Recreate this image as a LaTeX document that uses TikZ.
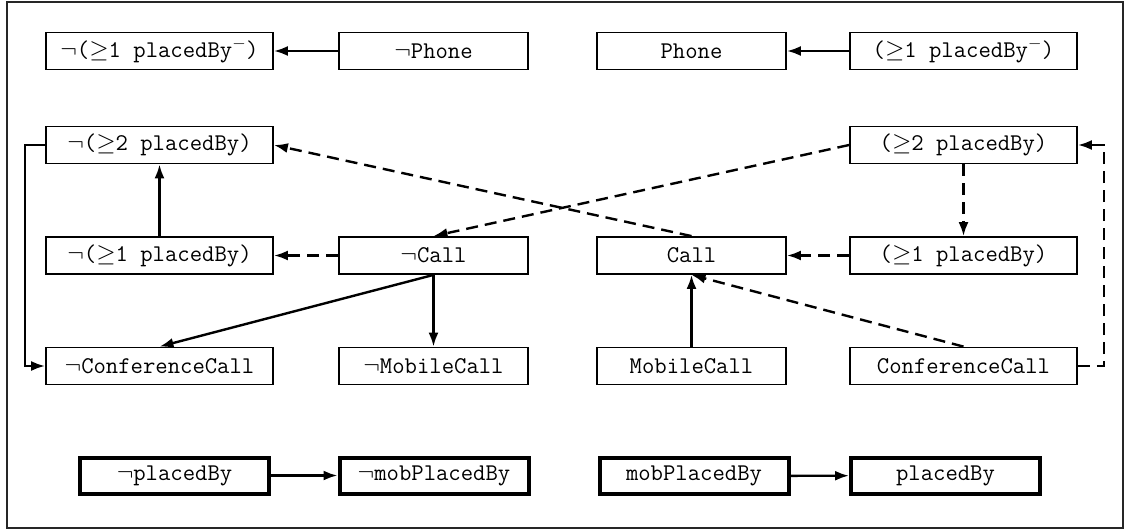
\documentclass[tikz,border=0pt]{standalone}
\usepackage{fontspec}
\usetikzlibrary{arrows.meta,calc}

\tikzset{
  concept/.style={draw, line width=1.8pt, inner sep=0pt, minimum height=37pt,
    font=\ttfamily\fontsize{24}{28}\selectfont},
  wide/.style={concept, minimum width=227pt},
  narrow/.style={concept, minimum width=189pt},
  role/.style={concept, line width=4pt, minimum width=189pt, minimum height=36pt},
  link/.style={line width=2.4pt, -{Latex[length=14pt,width=10pt]}},
  weak/.style={link, dash pattern=on 12pt off 7pt},
}

\begin{document}
\begin{tikzpicture}[x=1pt, y=-1pt]
  \useasboundingbox (0,0) rectangle (1126,532);
  \draw[line width=1.8pt, black!85] (7,2) rectangle (1123,528);

  % first row
  \node[wide]   (nexinv)  at (159.5,51) {$\neg$($\geq$1 placedBy$^{-}$)};
  \node[narrow] (nphone)  at (433.5,51) {$\neg$Phone};
  \node[narrow] (phone)   at (691.5,51) {Phone};
  \node[wide]   (exinv)   at (963.5,51) {($\geq$1 placedBy$^{-}$)};

  % second row
  \node[wide]   (nmin2)   at (159.5,145) {$\neg$($\geq$2 placedBy)};
  \node[wide]   (min2)    at (963.5,145) {($\geq$2 placedBy)};

  % third row
  \node[wide]   (nmin1)   at (159.5,255.5) {$\neg$($\geq$1 placedBy)};
  \node[narrow] (ncall)   at (433.5,255.5) {$\neg$Call};
  \node[narrow] (call)    at (691.5,255.5) {Call};
  \node[wide]   (min1)    at (963.5,255.5) {($\geq$1 placedBy)};

  % fourth row
  \node[wide]   (nconf)   at (159.5,366) {$\neg$ConferenceCall};
  \node[narrow] (nmob)    at (433.5,366) {$\neg$MobileCall};
  \node[narrow] (mob)     at (691.5,366) {MobileCall};
  \node[wide]   (conf)    at (963.5,366) {ConferenceCall};

  % roles
  \node[role] (nplaced)  at (174.5,475.5) {$\neg$placedBy};
  \node[role] (nmobpl)   at (434,475.5)   {$\neg$mobPlacedBy};
  \node[role] (mobpl)    at (694,476)     {mobPlacedBy};
  \node[role] (placed)   at (945.5,475.5) {placedBy};

  \coordinate (leftrail)  at (25,0);
  \coordinate (rightrail) at (1104,0);

  % solid subsumptions
  \draw[link] (nphone) -- (nexinv);
  \draw[link] (exinv) -- (phone);
  \draw[link] (nmin1) -- (nmin2);
  \draw[link] (nmin2.west) -- (nmin2.west -| leftrail) -- (nconf.west -| leftrail) -- (nconf.west);
  \draw[link] (ncall.south) -- (nconf.north);
  \draw[link] (ncall.south) -- (nmob.north);
  \draw[link] (mob.north) -- (call.south);
  \draw[link] (nplaced) -- (nmobpl);
  \draw[link] (mobpl) -- (placed);

  % dashed subsumptions
  \draw[weak] (ncall) -- (nmin1);
  \draw[weak] (min1) -- (call);
  \draw[weak] (min2) -- (min1);
  \draw[weak] (min2.west) -- (ncall.north);
  \draw[weak] (call.north) -- (nmin2.east);
  \draw[weak] (conf.north) -- (call.south);
  \draw[weak] (conf.east) -- (conf.east -| rightrail) -- (min2.east -| rightrail) -- (min2.east);
\end{tikzpicture}
\end{document}
